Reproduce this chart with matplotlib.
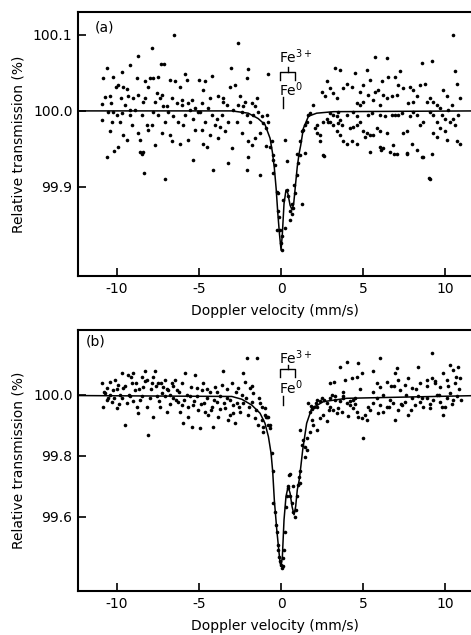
import matplotlib
matplotlib.use("Agg")
import matplotlib.pyplot as plt

# ---------------- data: panel (a) ----------------
va = [-10.59,-10.83,-10.22,-10.08,-10.73,-10.43,-10.89,-10.37,-10.53,-10.22,-10.93,-10.33,-10.43,-10.63,-10.02,
      -9.72,-9.23,-9.92,-9.61,-9.41,-9.31,-9.76,-9.51,-9.72,-9.21,-9.82,-9.11,-9.61,-9.41,-9.92,-9.21,-9.0,
      -8.74,-8.8,-8.29,-8.09,-8.7,-8.4,-8.9,-8.5,-8.19,-8.7,-8.6,-8.4,-8.34,-8.09,-8.29,-7.99,
      -7.85,-7.32,-7.13,-7.78,-7.48,-7.58,-7.28,-7.68,-7.17,-7.78,-7.48,-7.07,-7.28,-7.89,-7.68,-7.07,-7.38,
      -6.5,-6.77,-6.46,-6.16,-6.67,-6.36,-6.06,-6.87,-6.56,-6.26,-6.77,-6.16,-6.67,-6.97,-6.02,
      -5.85,-5.75,-5.45,-5.65,-5.24,-5.55,-5.85,-5.35,-5.96,-5.24,-5.65,-5.35,-5.04,
      -5.0,-4.63,-4.23,-4.74,-4.33,-4.84,-4.43,-4.94,-4.23,-4.63,-4.02,-4.84,-4.33,-4.74,-4.13,-4.53,
      -3.05,-3.82,-3.52,-3.31,-3.62,-3.92,-3.21,-3.72,-3.41,-3.82,-3.21,-3.52,-3.11,
      -2.64,-2.03,-2.09,-2.8,-2.5,-2.2,-2.6,-2.3,-2.91,-2.4,-2.09,-2.7,-2.4,-1.99,-2.09,-3.01,
      -1.79,-1.59,-1.38,-1.69,-1.18,-1.89,-1.28,-1.59,-1.79,-1.28,-1.08,-1.48,
      -0.77,-0.87,-0.77,-0.57,-0.67,-0.47,-0.37,-0.93,
      -10.2,-8.6,-8.45,-1.99,-0.91,
      -0.47,-0.51,-0.26,-0.16,-0.2,-0.1,-0.06,0.04,-0.02,0.04,-0.26,0.24,0.14,0.35,0.45,0.55,0.65,0.75,0.55,
      0.85,0.95,1.06,1.16,0.95,1.26,1.46,0.39,0.8,0.65,0.24,
      1.26,1.46,1.57,1.36,1.16,1.67,1.77,1.97,2.07,2.17,2.38,2.58,2.48,2.68,2.78,2.99,3.29,3.6,3.19,3.39,
      3.8,4.0,4.31,4.51,4.82,5.02,5.22,5.43,5.33,5.73,6.44,5.73,5.93,5.63,6.04,6.44,6.75,7.05,7.26,6.54,
      6.95,7.46,7.87,8.07,8.27,8.48,8.78,8.58,9.19,9.9,10.1,10.41,10.51,10.61,10.71,10.91,10.81,10.51,10.3,
      10.61,10.91,10.71,10.1,10.0,9.7,9.49,9.29,9.09,8.88,8.68,8.48,8.27,8.07,7.87,7.66,7.46,7.36,7.15,6.95,
      6.75,6.85,6.65,6.24,6.04,5.83,5.63,5.43,5.22,5.02,4.82,4.61,4.41,4.21,4.0,3.8,3.6,3.39,3.19,2.99,2.78,
      2.58,2.38,2.17,4.31,4.61,5.12,5.43,6.04,6.44,7.05,7.66,7.97,8.27,8.68,9.09,9.29,9.49,9.8,10.0,10.2,
      9.09,9.49,9.7,9.29,7.76,8.07,4.82,5.02,4.61,4.41,4.0,3.6,3.39,3.19,2.99,2.89,3.5,3.7,5.33,5.53,6.04,
      6.34,4.61,3.5,6.14,6.24,7.15,
      6.1,6.9,7.7,8.6,9.2,9.0,2.64]
Ta = [100.057,100.043,100.044,100.032,100.018,100.020,100.009,100.010,99.999,99.998,99.988,99.986,99.973,99.939,99.995,
      100.051,100.060,100.034,100.032,100.029,100.019,100.017,100.008,99.997,99.995,99.986,99.982,99.968,99.962,99.953,100.001,100.017,
      100.072,100.043,100.039,100.032,100.021,100.012,100.001,99.995,99.982,99.971,99.962,99.946,99.919,99.975,100.017,100.043,
      100.083,100.061,100.062,100.043,100.044,100.023,100.021,100.012,100.006,99.999,99.995,99.986,99.971,99.982,99.955,99.911,100.017,
      100.100,100.041,100.039,100.032,100.017,100.010,100.008,99.999,99.993,99.986,99.968,99.957,99.960,100.006,100.014,
      100.049,100.041,100.014,100.010,100.004,100.001,99.995,99.990,99.982,99.975,99.962,99.936,99.999,
      100.040,100.039,100.046,100.028,100.017,100.010,100.004,99.999,99.995,99.986,99.982,99.975,99.968,99.957,99.922,99.953,
      100.056,100.019,100.017,100.008,99.995,99.990,99.986,99.979,99.973,99.964,99.931,100.012,100.032,
      100.089,100.055,100.043,100.034,100.019,100.012,100.008,100.006,100.001,99.999,99.995,99.986,99.971,99.960,99.922,99.951,
      100.010,100.006,99.999,99.995,99.993,99.986,99.971,99.964,99.955,99.916,99.984,100.017,
      100.048,99.995,99.986,99.960,99.953,99.942,99.929,99.977,
      99.947,99.946,99.944,99.939,99.954,
      99.936,99.918,99.894,99.892,99.868,99.861,99.844,99.835,99.826,99.817,99.844,99.846,99.883,99.896,99.888,99.868,99.864,99.872,99.857,
      99.892,99.916,99.931,99.942,99.944,99.878,99.945,99.934,99.903,99.878,99.962,
      99.973,99.982,99.986,99.975,99.960,99.995,99.997,100.008,99.977,99.971,99.960,99.942,100.025,100.019,100.039,100.030,100.056,100.054,100.023,100.017,
      100.030,100.036,100.032,100.050,100.025,100.034,100.054,100.041,100.021,100.071,100.069,100.025,100.028,100.014,100.008,100.017,100.019,100.021,100.052,100.045,
      100.045,100.030,100.032,100.028,100.019,100.034,100.036,100.063,100.065,100.028,100.019,100.008,100.100,100.052,100.036,100.017,99.995,99.990,99.986,
      99.982,99.957,99.960,99.962,99.973,99.977,99.986,99.995,99.999,100.012,99.986,99.982,99.995,99.999,99.993,99.973,99.971,99.997,99.995,99.995,
      99.995,99.955,99.946,99.951,99.973,99.977,99.968,99.968,99.971,99.973,99.986,99.982,99.979,99.977,99.957,99.960,99.968,99.973,99.982,99.986,99.990,
      99.986,99.968,99.982,99.960,99.957,99.966,99.946,99.953,99.971,99.944,99.944,99.957,99.949,99.940,99.911,99.971,99.966,99.995,99.990,100.001,
      100.017,100.008,100.004,100.012,100.010,100.012,100.008,100.012,100.010,99.999,99.995,99.988,99.993,99.995,99.997,99.986,99.984,99.982,99.995,99.997,99.995,
      99.993,99.993,99.999,100.039,100.021,100.034,
      99.949,99.944,99.945,99.939,99.943,99.912,99.941]

fit_a_v = [-12.4, -4.0, -3.0, -2.0, -1.4, -0.98, -0.67, -0.53, -0.41, -0.30, -0.20, -0.10, 0.0, 0.08, 0.18,
           0.30, 0.41, 0.55, 0.67, 0.77, 0.89, 0.99, 1.10, 1.20, 1.36, 1.67, 2.17, 3.2, 12.0]
fit_a_T = [100.0, 100.0, 100.0, 99.997, 99.99, 99.982, 99.964, 99.946, 99.925, 99.898, 99.866, 99.839, 99.817, 99.839, 99.878,
           99.896, 99.892, 99.876, 99.870, 99.878, 99.905, 99.927, 99.944, 99.955, 99.977, 99.993, 99.997, 99.999, 100.0]

# ---------------- data: panel (b) ----------------
vb = [-10.93,-10.83,-10.73,-10.63,-10.53,-10.43,-10.33,-10.22,-10.12,-10.02,-9.92,-9.82,-9.72,-9.61,-9.51,-9.41,-9.31,-9.21,
      -9.11,-9.0,-8.9,-8.8,-8.7,-8.6,-8.5,-8.4,-8.29,-8.19,-8.09,-7.99,-7.89,-7.78,-7.68,-7.58,-7.48,-7.38,-7.28,-7.17,-7.07,
      -6.97,-6.87,-6.77,-6.67,-6.56,-6.46,-6.36,-6.26,-6.16,-6.06,-5.96,-5.85,-5.75,-5.65,-5.55,-5.45,-5.35,-5.24,-5.14,-5.04,
      -4.94,-4.84,-4.74,-4.63,-4.53,-4.43,-4.33,-4.23,-4.13,-4.02,-3.92,-3.82,-3.72,-3.62,-3.52,-3.41,-3.31,-3.21,-3.11,-3.01,
      -2.91,-2.8,-2.7,-2.6,-2.5,-2.4,-2.3,-2.2,-2.09,-1.99,-1.89,-1.79,-1.69,-1.59,-1.48,-1.38,-1.28,-1.18,-1.08,-0.98,-0.87,
      -0.77,-0.67,-0.57,-0.93,
      -10.8,-10.6,-10.4,-10.2,-10.0,-9.9,-9.7,-9.5,-9.3,-9.15,-9.0,-8.85,-8.65,-8.45,-8.3,-8.15,-7.95,-7.8,-7.6,-7.45,-7.3,
      -7.1,-6.95,-6.8,-6.6,-6.4,-6.2,-6.05,-5.9,-5.7,-5.5,-5.3,-5.1,-4.9,-4.7,-4.5,-4.3,-4.1,-3.9,-3.7,-3.5,-3.3,-3.1,-2.95,
      -2.75,-2.55,-2.35,-2.15,-1.95,-1.75,-1.55,-1.35,-1.15,-1.0,-0.67,-0.77,-1.08,
      -0.51,-0.47,-0.37,-0.3,-0.26,-0.2,-0.16,-0.1,-0.06,-0.02,0.04,0.1,0.14,0.18,0.24,0.28,0.35,0.45,0.51,0.55,0.65,0.75,
      0.85,0.91,0.95,1.06,1.12,1.16,1.16,0.55,0.45,0.75,
      1.16,1.26,1.36,1.46,1.56,1.77,1.46,1.56,
      1.67,1.77,1.87,1.97,2.17,2.38,2.58,2.78,2.99,3.19,3.29,3.5,3.7,4.0,4.2,4.4,4.6,4.7,4.92,5.12,5.22,5.02,5.43,5.63,
      5.83,6.04,6.24,6.44,6.65,6.85,6.95,7.15,7.35,7.56,7.76,7.97,8.17,8.37,8.48,8.68,8.88,9.09,9.29,9.49,9.7,9.9,10.1,
      10.3,10.5,10.7,10.0,
      9.19,4.0,3.6,4.72,5.63,6.04,7.05,8.37,10.3,10.8,3.0,3.2,3.9,4.3,4.6,4.92,5.83,6.04,6.44,6.7,6.95,7.1,7.26,7.56,
      7.76,7.97,8.48,8.88,9.19,9.4,9.7,9.9,10.1,10.5,10.6,10.9,11.0,
      2.0,2.4,2.6,2.8,3.0,3.8,4.2,4.4,1.8,1.9,2.1,2.2,3.3,3.6,3.8,4.5,
      2.2,2.5,2.9,3.1,3.4,3.8,4.1,4.5,4.8,5.3,5.6,5.9,6.2,6.6,6.9,7.3,7.6,7.9,8.2,8.6,8.9,9.1,9.4,9.6,9.8,10.2,
      10.45,10.65,10.85]
Tb = [100.038,99.962,100.005,100.022,99.989,100.044,99.978,100.016,100.049,99.956,100.033,100.0,100.071,100.022,99.902,99.973,100.066,99.995,
      100.038,100.071,100.016,99.962,99.940,99.984,100.060,100.027,100.077,100.049,99.869,99.989,100.038,99.929,100.077,99.995,100.038,99.962,100.005,100.027,100.049,
      99.945,100.016,100.0,100.038,99.989,100.049,100.016,99.978,99.945,99.967,99.907,100.071,100.0,99.929,99.995,99.896,99.967,100.066,100.022,99.951,
      99.891,100.016,100.038,99.945,99.989,99.934,100.011,99.962,99.896,100.027,99.978,99.929,99.995,100.033,100.077,99.956,99.989,99.918,99.934,100.038,
      99.967,99.907,99.973,100.022,99.945,100.0,100.071,100.044,100.120,99.934,100.022,99.978,100.005,99.923,100.120,99.902,99.973,99.918,99.880,99.956,99.929,
      99.902,99.891,99.809,99.929,
      100.01,99.985,100.0,99.99,100.02,99.97,99.99,100.03,100.0,100.06,99.98,100.04,100.02,99.995,100.045,99.96,100.02,100.06,100.03,99.98,100.04,
      99.995,100.02,99.97,100.03,99.985,100.01,100.04,99.985,99.96,100.025,99.98,99.995,99.97,99.975,100.02,99.95,99.985,100.01,99.955,99.975,100.02,99.985,99.94,
      100.01,99.96,99.975,99.99,99.96,100.03,99.95,99.99,99.96,99.935,99.90,99.929,99.896,
      99.749,99.645,99.617,99.574,99.552,99.508,99.492,99.470,99.454,99.443,99.432,99.438,99.465,99.492,99.552,99.634,99.667,99.694,99.738,99.667,99.645,99.617,
      99.601,99.623,99.667,99.705,99.732,99.749,99.710,99.740,99.700,99.700,
      99.885,99.836,99.852,99.830,99.858,99.880,99.798,99.820,
      99.973,99.945,99.918,99.902,99.885,99.923,99.934,99.913,99.962,99.951,99.984,99.956,99.945,99.973,99.967,99.956,99.945,99.929,99.923,99.934,99.918,99.858,99.951,99.973,
      99.989,99.967,99.945,99.962,99.984,99.973,99.918,99.951,99.967,99.978,99.934,99.989,99.967,99.995,99.978,99.962,99.989,99.956,99.984,100.0,99.978,99.934,99.989,
      100.005,99.984,99.995,99.962,
      100.137,100.109,100.093,100.104,100.077,100.120,100.087,100.093,100.098,100.093,100.040,100.043,100.049,100.055,100.060,100.071,100.038,100.027,100.044,100.030,100.071,100.049,100.016,100.033,
      100.055,100.022,100.038,100.049,100.055,100.045,100.027,100.071,100.049,100.082,100.038,100.055,99.984,
      99.962,99.980,99.985,99.975,99.990,99.990,99.980,99.985,99.965,99.955,99.975,99.985,99.995,99.980,99.995,99.990,
      99.96,99.99,99.95,100.0,99.94,100.01,99.93,99.97,100.02,99.96,100.01,99.94,100.0,99.96,100.03,99.97,100.0,99.95,100.02,99.99,100.03,99.97,100.04,100.0,99.96,100.03,
      99.97,100.06,100.02]

fit_b_v = [-12.4, -3.0, -2.4, -1.79, -1.28, -0.98, -0.77, -0.61, -0.51, -0.41, -0.26, -0.14, -0.06, 0.0, 0.08, 0.18,
           0.30, 0.43, 0.55, 0.67, 0.79, 0.89, 0.99, 1.12, 1.32, 1.56, 1.87, 2.58, 4.0, 12.0]
fit_b_T = [99.998, 99.995, 99.986, 99.967, 99.940, 99.907, 99.863, 99.809, 99.749, 99.655, 99.557, 99.492, 99.449, 99.438, 99.470, 99.590,
           99.667, 99.699, 99.678, 99.634, 99.607, 99.634, 99.689, 99.725, 99.820, 99.907, 99.956, 99.978, 99.989, 99.998]

xticks = [-10, -5, 0, 5, 10]
xticklabels = ["-10", "-5", "0", "5", "10"]
yticks_a = [99.9, 100.0, 100.1]
yticklabels_a = ["99.9", "100.0", "100.1"]
yticks_b = [99.6, 99.8, 100.0]
yticklabels_b = ["99.6", "99.8", "100.0"]

# ---------------- figure ----------------
W, H = 471, 635
fig = plt.figure(figsize=(W / 100, H / 100), dpi=100)
axA = fig.add_axes([78 / W, 1 - 276 / H, 1 - 78 / W, 264 / H])
axB = fig.add_axes([78 / W, 1 - 591 / H, 1 - 78 / W, 261 / H])

def style(ax, yt, ytl, ylim):
    ax.set_xlim(-12.38, 11.58)
    ax.set_ylim(*ylim)
    ax.set_xticks(xticks)
    ax.set_xticklabels(xticklabels)
    ax.set_yticks(yt)
    ax.set_yticklabels(ytl)
    ax.spines["right"].set_visible(False)
    for s in ("left", "bottom", "top"):
        ax.spines[s].set_linewidth(1.5)
    ax.tick_params(direction="in", length=6, width=1.2, labelsize=10, pad=4,
                   top=False, right=False)
    ax.set_xlabel("Doppler velocity (mm/s)", fontsize=10, labelpad=6)
    ax.set_ylabel("Relative transmission (%)", fontsize=10, labelpad=5)

style(axA, yticks_a, yticklabels_a, (99.783, 100.130))
style(axB, yticks_b, yticklabels_b, (99.357, 100.213))

for ax, v, T, fv, fT in ((axA, va, Ta, fit_a_v, fit_a_T), (axB, vb, Tb, fit_b_v, fit_b_T)):
    ax.plot(v, T, "o", ms=2.6, color="black", mec="none")
    ax.plot(fv, fT, "-", color="black", lw=1.1)

axA.text(0.043, 0.94, "(a)", transform=axA.transAxes, fontsize=10, va="center")
axB.text(0.02, 0.955, "(b)", transform=axB.transAxes, fontsize=10, va="center")

# Fe annotations (bracket marks)
def fe_marks(ax, y_txt3, y_bt, y_bb, y_btop, y_txt0, y_t0a, y_t0b):
    ax.text(-0.1, y_txt3, r"Fe$^{\mathregular{3+}}$", fontsize=10, ha="left", va="center")
    ax.plot([-0.06, -0.06, 0.85, 0.85], [y_bb, y_bt, y_bt, y_bb], color="black", lw=1.0)
    ax.plot([0.4, 0.4], [y_bt, y_btop], color="black", lw=1.0)
    ax.text(-0.1, y_txt0, r"Fe$^{\mathregular{0}}$", fontsize=10, ha="left", va="center")
    ax.plot([0.12, 0.12], [y_t0a, y_t0b], color="black", lw=1.0)

fe_marks(axA, 100.071, 100.051, 100.041, 100.058, 100.028, 100.018, 100.004)
fe_marks(axB, 100.121, 100.085, 100.059, 100.098, 100.023, 99.997, 99.967)

fig.savefig("out.png", dpi=100)
